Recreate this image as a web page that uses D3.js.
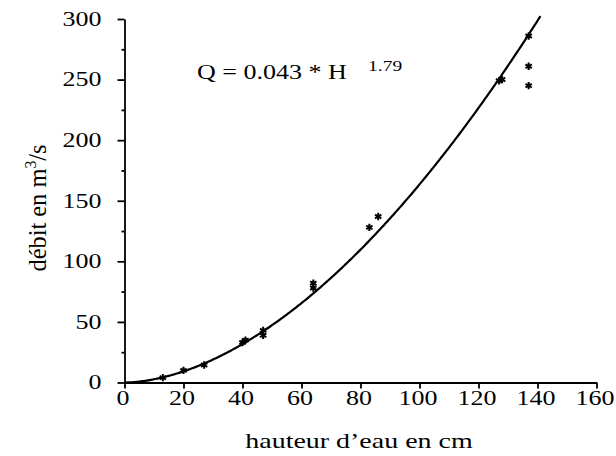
<!DOCTYPE html>
<html>
<head>
<meta charset="utf-8">
<script src="https://cdn.jsdelivr.net/npm/d3@7"></script>
<style>
  body { margin: 0; background: #fff; }
  text { font-family: "Liberation Serif", "Times New Roman", serif; fill: #000; }
</style>
</head>
<body>
<div id="chart"></div>
<script>
// Mesures (hauteur en cm, débit en m3/s)
const hauteur = [13, 20, 27, 40, 41, 47, 47, 64, 64, 83, 86, 127, 128, 137, 137, 137];
const debit = [4, 10, 14.5, 33, 35, 39, 43, 78, 82, 128, 137, 249, 250, 286, 261, 245];

// Graduations
const xTicks = [0, 20, 40, 60, 80, 100, 120, 140, 160];
const yTicks = [0, 50, 100, 150, 200, 250, 300];
const yMinorTicks = [25, 75, 125, 175, 225, 275];

// Loi ajustée Q = a * H^b
const coefA = 0.043;
const coefB = 1.79;
const hMaxCourbe = 141;

const width = 616;
const height = 456;
const marginLeft = 124.5;
const marginRight = 19.5;
const marginTop = 19;
const marginBottom = 73.5;
const etirement = 1.3; // le texte de l'original est élargi

const svg = d3.select("#chart").append("svg")
    .attr("width", width)
    .attr("height", height);

const x = d3.scaleLinear()
    .domain([0, 160])
    .range([marginLeft, width - marginRight]);

const y = d3.scaleLinear()
    .domain([0, 300])
    .range([height - marginBottom, marginTop]);

// élargit un texte horizontalement
function etirer(sel) {
    sel.each(function () {
        const w = this.getComputedTextLength();
        d3.select(this)
            .attr("textLength", w * etirement)
            .attr("lengthAdjust", "spacingAndGlyphs");
    });
}

// Axe X
const gx = svg.append("g")
    .attr("transform", `translate(0, ${y(0)})`)
    .call(d3.axisBottom(x).tickValues(xTicks).tickSize(6).tickSizeOuter(0));

gx.selectAll("text")
    .attr("y", 22.5)
    .attr("dy", 0)
    .attr("dx", -2)
    .style("font-size", "20px")
    .call(etirer);

// Axe Y
const gy = svg.append("g")
    .attr("transform", `translate(${x(0)}, 0)`)
    .call(d3.axisLeft(y).tickValues(yTicks).tickSize(7).tickPadding(16).tickSizeOuter(0));

gy.selectAll("text")
    .style("font-size", "20px")
    .call(etirer);

// petites graduations Y
svg.append("g")
    .attr("transform", `translate(${x(0)}, 0)`)
    .call(d3.axisLeft(y).tickValues(yMinorTicks).tickSize(3).tickFormat(""))
    .select(".domain").remove();

svg.selectAll(".domain, .tick line")
    .attr("stroke", "#000")
    .attr("stroke-width", 1.8);

// Courbe de tarage
const courbe = d3.range(0, hMaxCourbe + 0.01, 0.5).map(h => [h, coefA * Math.pow(h, coefB)]);

svg.append("path")
    .datum(courbe)
    .attr("fill", "none")
    .attr("stroke", "#000")
    .attr("stroke-width", 2.2)
    .attr("d", d3.line().x(d => x(d[0])).y(d => y(d[1])));

// Points mesurés
const etoile = d3.symbol().type(d3.symbolAsterisk).size(38);

svg.selectAll(".point")
    .data(hauteur)
    .enter()
    .append("path")
    .attr("class", "point")
    .attr("transform", (d, i) => `translate(${x(d)}, ${y(debit[i])})`)
    .attr("d", etoile)
    .attr("fill", "none")
    .attr("stroke", "#000")
    .attr("stroke-width", 2);

// Equation
svg.append("text")
    .attr("x", 197)
    .attr("y", 79)
    .style("font-size", "20px")
    .text(`Q = ${coefA} * H`)
    .call(etirer);

svg.append("text")
    .attr("x", 368)
    .attr("y", 71)
    .style("font-size", "15px")
    .text(coefB)
    .call(etirer);

// Titre axe X
svg.append("text")
    .attr("x", 359)
    .attr("y", 448)
    .attr("text-anchor", "middle")
    .style("font-size", "21.5px")
    .text("hauteur d\u2019eau en cm")
    .call(etirer);

// Titre axe Y
const titreY = svg.append("text")
    .attr("transform", `translate(46, 208) scale(${etirement}, 1.22) rotate(-90)`)
    .attr("text-anchor", "middle")
    .style("font-size", "20px");

titreY.append("tspan").text("débit en m");
titreY.append("tspan").attr("dy", -8).style("font-size", "13px").text("3");
titreY.append("tspan").attr("dy", 8).text("/s");
</script>
</body>
</html>
